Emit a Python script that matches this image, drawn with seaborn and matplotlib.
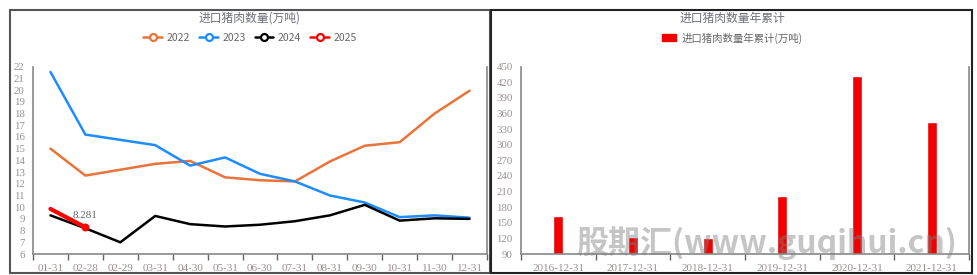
import numpy as np
import pandas as pd
import matplotlib
matplotlib.use("Agg")
import matplotlib.pyplot as plt
from matplotlib.patches import Rectangle
from matplotlib.lines import Line2D
import seaborn as sns

sns.set_theme(style="white")
plt.rcParams['font.family'] = ['Noto Sans CJK SC', 'DejaVu Sans']

# ---------------- data ----------------
months = ["01-31", "02-28", "02-29", "03-31", "04-30", "05-31", "06-30",
          "07-31", "08-31", "09-30", "10-31", "11-30", "12-31"]
v2022 = [15.0, 12.7, None, 13.7, 13.95, 12.55, 12.3, 12.2, 13.9, 15.25, 15.55, 18.0, 19.95]
v2023 = [21.55, 16.2, None, 15.3, 13.55, 14.25, 12.85, 12.2, 11.0, 10.4, 9.15, 9.3, 9.1]
v2024 = [9.3, 8.2, 7.0, 9.25, 8.55, 8.35, 8.5, 8.8, 9.3, 10.2, 8.85, 9.05, 9.0]
v2025 = [9.85, 8.281, None, None, None, None, None, None, None, None, None, None, None]
series_names = ["2022", "2023", "2024", "2025"]
series_colors = ["#e8743b", "#1e8cff", "#000000", "#ff0000"]

years = ["2016-12-31", "2017-12-31", "2018-12-31", "2019-12-31", "2020-12-31", "2021-12-31"]
annual = [163, 122, 121, 202, 432, 344]

W, H = 977, 275
fig = plt.figure(figsize=(W / 100, H / 100), dpi=100)
fig.patch.set_facecolor("white")

def fx(px):
    return px / W

def fy(py):
    return 1 - py / H

# panel frames
fig.patches.append(Rectangle((fx(10), fy(273)), fx(480), 263 / H, transform=fig.transFigure,
                             fill=False, edgecolor="#555555", linewidth=1.5, zorder=0))
fig.patches.append(Rectangle((fx(491), fy(273)), fx(481), 263 / H, transform=fig.transFigure,
                             fill=False, edgecolor="#222222", linewidth=1.5, zorder=0))

tick_color = "#9a8f8f"
title_color = "#6e7079"
serif = ['Liberation Serif', 'DejaVu Serif']

# ---------------- left chart ----------------
axL = fig.add_axes([fx(33), fy(254), fx(487 - 33), (254 - 66.7) / H])
rows = []
for name, vals in zip(series_names, [v2022, v2023, v2024, v2025]):
    for i, v in enumerate(vals):
        if v is not None:
            rows.append({"x": i, "y": v, "series": name})
df = pd.DataFrame(rows)
for name, col in zip(series_names, series_colors):
    sub = df[df.series == name]
    sns.lineplot(data=sub, x="x", y="y", ax=axL, color=col,
                 linewidth=3 if name == "2025" else 1.8, legend=False, zorder=3 if name == "2025" else 2)
last = df[df.series == "2025"].iloc[-1]
axL.scatter([last.x], [last.y], s=22, color="#ff0000", zorder=4)
axL.text(last.x, last.y + 0.6, f"{last.y:.3f}", ha="center", va="bottom",
         fontsize=8, color="#666666", family=serif)

axL.set_xlim(-0.5, len(months) - 0.5)
axL.set_ylim(6, 22)
axL.set_yticks(range(6, 23))
axL.set_yticklabels([str(v) for v in range(6, 23)], family=serif)
axL.set_xticks(range(len(months)))
axL.set_xticklabels(months, family=serif)
axL.set_xticks(np.arange(-0.5, len(months)), minor=True)
axL.tick_params(axis="x", which="major", length=0, pad=7, labelsize=8, colors=tick_color)
axL.tick_params(axis="x", which="minor", length=4, color="#666666", bottom=True, direction="out")
axL.tick_params(axis="y", length=0, pad=6, labelsize=7.8, colors=tick_color)
axL.set_xlabel("")
axL.set_ylabel("")
for s in ["top"]:
    axL.spines[s].set_visible(False)
for s in ["left", "right", "bottom"]:
    axL.spines[s].set_color("#888888")
    axL.spines[s].set_linewidth(1.2)

fig.text(fx(250), fy(18), "进口猪肉数量(万吨)", ha="center", va="center",
         fontsize=8.5, color=title_color)
handles = [Line2D([0], [0], color=c, linewidth=1.8, marker="o", markersize=5,
                  markerfacecolor="white", markeredgecolor=c, markeredgewidth=1.6)
           for c in series_colors]
fig.legend(handles, series_names, loc="center", bbox_to_anchor=(fx(250), fy(38)),
           ncol=4, frameon=False, fontsize=7.5, handlelength=1.8, columnspacing=0.9,
           handletextpad=0.4, labelcolor="#666666")

# ---------------- right chart ----------------
axR = fig.add_axes([fx(521), fy(254), fx(969 - 521), (254 - 66.7) / H])
dfb = pd.DataFrame({"year": years, "value": annual})
sns.barplot(data=dfb, x="year", y="value", ax=axR, color="#f00000", width=0.135,
            saturation=1, zorder=2)
axR.set_ylim(90, 450)
axR.set_xlim(-0.5, len(years) - 0.5)
axR.set_yticks(range(90, 451, 30))
axR.set_yticklabels([str(v) for v in range(90, 451, 30)], family=serif)
axR.set_xticks(range(len(years)))
axR.set_xticklabels(years, family=serif)
axR.set_xticks(np.arange(-0.5, len(years)), minor=True)
axR.tick_params(axis="x", which="major", length=0, pad=7, labelsize=8, colors=tick_color)
axR.tick_params(axis="x", which="minor", length=4, color="#666666", bottom=True, direction="out")
axR.tick_params(axis="y", length=0, pad=6, labelsize=7.8, colors=tick_color)
axR.set_xlabel("")
axR.set_ylabel("")
axR.spines["top"].set_visible(False)
for s in ["left", "right", "bottom"]:
    axR.spines[s].set_color("#888888")
    axR.spines[s].set_linewidth(1.2)

fig.text(fx(732), fy(18), "进口猪肉数量年累计", ha="center", va="center",
         fontsize=8.5, color=title_color)
fig.legend([Rectangle((0, 0), 1, 1, color="#f00000")], ["进口猪肉数量年累计(万吨)"],
           loc="center", bbox_to_anchor=(fx(732), fy(38)), frameon=False, fontsize=7.5,
           handlelength=1.4, handleheight=0.7, handletextpad=0.5, labelcolor="#666666")

# watermark
fig.text(fx(767), fy(243), "股期汇(www.guqihui.cn)", ha="center", va="center",
         fontsize=23, fontweight="bold", style="italic", color="#808080", alpha=0.45,
         zorder=10)

fig.savefig("out.png", dpi=100, facecolor="white")
